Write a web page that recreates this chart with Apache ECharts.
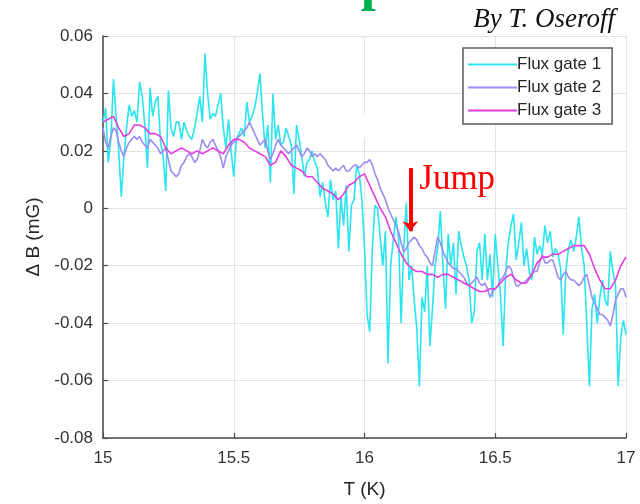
<!DOCTYPE html>
<html>
<head>
<meta charset="utf-8">
<script src="https://cdn.jsdelivr.net/npm/echarts@6/dist/echarts.min.js"></script>
<style>
  html, body { margin: 0; padding: 0; background: #fff; }
  #chart { width: 640px; height: 504px; }
</style>
</head>
<body>
<div id="chart"></div>
<script>
// Temperature sweep: first sample and sampling steps (K)
const T_START = 15;
const GATE12_STEP = 0.01;
const GATE3_STEP = 0.02;

// Field change per flux gate (mG)
const gate1 = [
  0.030, 0.035, 0.016, 0.024, 0.045, 0.032, 0.020, 0.004, 0.018, 0.028,
  0.036, 0.032, 0.034, 0.030, 0.044, 0.039, 0.029, 0.014, 0.042, 0.032,
  0.037, 0.039, 0.023, 0.018, 0.006, 0.041, 0.028, 0.025, 0.030, 0.030,
  0.024, 0.030, 0.027, 0.025, 0.024, 0.028, 0.033, 0.039, 0.030, 0.054,
  0.040, 0.031, 0.033, 0.032, 0.036, 0.040, 0.028, 0.021, 0.031, 0.020,
  0.011, 0.024, 0.026, 0.028, 0.025, 0.037, 0.030, 0.032, 0.035, 0.040,
  0.047, 0.033, 0.021, 0.029, 0.009, 0.040, 0.024, 0.029, 0.022, 0.023,
  0.028, 0.025, 0.022, 0.005, 0.029, 0.024, 0.018, 0.011, 0.016, 0.017,
  0.020, 0.016, 0.014, 0.004, 0.009, 0.002, -0.003, 0.010, 0.003, 0.006,
  -0.014, 0.004, -0.006, 0.008, -0.015, 0.001, 0.003, 0.015, 0.012, 0.003,
  -0.014, -0.037, -0.043, -0.014, 0.001, 0.000, -0.010, -0.020, -0.008, -0.054,
  -0.020, -0.011, -0.003, -0.010, -0.040, -0.014, 0.002, -0.025, -0.020, -0.032,
  -0.042, -0.062, -0.031, -0.036, -0.020, -0.048, -0.035, -0.020, -0.014, -0.001,
  -0.020, -0.035, -0.009, -0.020, -0.012, -0.030, -0.008, -0.013, -0.017, -0.020,
  -0.025, -0.040, -0.036, -0.015, -0.012, -0.025, -0.009, -0.025, -0.016, -0.031,
  -0.009, -0.020, -0.030, -0.048, -0.022, -0.012, -0.006, -0.002, -0.018, -0.012,
  -0.005, -0.020, -0.014, -0.022, -0.025, -0.010, -0.016, -0.013, -0.016, -0.006,
  -0.012, -0.008, -0.017, -0.014, -0.016, -0.021, -0.044, -0.022, -0.014, -0.011,
  -0.015, -0.010, -0.003, -0.014, -0.020, -0.040, -0.062, -0.035, -0.030, -0.040,
  -0.031, -0.025, -0.032, -0.034, -0.015, -0.022, -0.027, -0.062, -0.045, -0.039,
  -0.044
];

const gate2 = [
  0.028, 0.023, 0.021, 0.025, 0.028, 0.027, 0.023, 0.020, 0.018, 0.021,
  0.023, 0.024, 0.025, 0.024, 0.025, 0.023, 0.022, 0.021, 0.024, 0.023,
  0.022, 0.021, 0.019, 0.020, 0.021, 0.017, 0.013, 0.012, 0.011, 0.012,
  0.015, 0.016, 0.018, 0.019, 0.018, 0.016, 0.017, 0.020, 0.024, 0.022,
  0.021, 0.023, 0.024, 0.022, 0.020, 0.018, 0.014, 0.018, 0.020, 0.022,
  0.023, 0.024, 0.025, 0.026, 0.027, 0.028, 0.030, 0.028, 0.026, 0.024,
  0.022, 0.023, 0.024, 0.020, 0.017, 0.019, 0.022, 0.024, 0.022, 0.021,
  0.020, 0.019, 0.020, 0.021, 0.022, 0.020, 0.018, 0.019, 0.021, 0.020,
  0.018, 0.019, 0.018, 0.019, 0.018, 0.017, 0.015, 0.014, 0.013, 0.014,
  0.013, 0.014, 0.015, 0.013, 0.013, 0.014, 0.015, 0.015, 0.014, 0.015,
  0.016, 0.016, 0.017, 0.015, 0.012, 0.010, 0.007, 0.005, 0.003, 0.000,
  -0.002, -0.004, -0.006, -0.008, -0.012, -0.015, -0.014, -0.012, -0.011, -0.010,
  -0.011, -0.013, -0.014, -0.016, -0.017, -0.019, -0.020, -0.015, -0.010, -0.012,
  -0.015, -0.017, -0.019, -0.020, -0.021, -0.021, -0.022, -0.023, -0.024, -0.026,
  -0.027, -0.026, -0.025, -0.024, -0.026, -0.027, -0.026, -0.028, -0.031, -0.029,
  -0.028, -0.027, -0.025, -0.024, -0.022, -0.020, -0.021, -0.024, -0.027, -0.027,
  -0.026, -0.026, -0.025, -0.024, -0.023, -0.022, -0.022, -0.019, -0.016, -0.019,
  -0.019, -0.018, -0.018, -0.021, -0.024, -0.025, -0.023, -0.022, -0.024, -0.025,
  -0.025, -0.026, -0.027, -0.026, -0.024, -0.023, -0.027, -0.031, -0.033, -0.035,
  -0.037, -0.037, -0.038, -0.039, -0.041, -0.037, -0.032, -0.030, -0.028, -0.028,
  -0.031
];

const gate3 = [
  0.030, 0.031, 0.032, 0.028, 0.025, 0.026, 0.029, 0.029, 0.028, 0.026,
  0.026, 0.025, 0.021, 0.019, 0.020, 0.021, 0.020, 0.019, 0.020, 0.019,
  0.020, 0.021, 0.020, 0.019, 0.022, 0.024, 0.024, 0.023, 0.021, 0.020,
  0.019, 0.018, 0.015, 0.016, 0.020, 0.018, 0.015, 0.014, 0.013, 0.011,
  0.011, 0.009, 0.007, 0.006, 0.005, 0.003, 0.005, 0.008, 0.009, 0.011,
  0.012, 0.008, 0.004, 0.000, -0.003, -0.008, -0.012, -0.016, -0.019, -0.021,
  -0.022, -0.022, -0.023, -0.023, -0.024, -0.023, -0.023, -0.024, -0.025, -0.026,
  -0.027, -0.028, -0.029, -0.029, -0.028, -0.028, -0.026, -0.024, -0.023, -0.025,
  -0.026, -0.026, -0.023, -0.019, -0.017, -0.017, -0.016, -0.016, -0.015, -0.014,
  -0.013, -0.013, -0.013, -0.016, -0.021, -0.025, -0.028, -0.028, -0.025, -0.020,
  -0.017
];

const seriesNames = ['Flux gate 1', 'Flux gate 2', 'Flux gate 3'];
const seriesColors = ['#2ae4ef', '#9a8cf0', '#e23de0'];

// Axis ticks
const xTicks = [15, 15.5, 16, 16.5, 17];
const yTicks = [-0.08, -0.06, -0.04, -0.02, 0, 0.02, 0.04, 0.06];

// "Jump" marker: temperature and the span of the arrow (mG)
const jumpT = 16.175;
const jumpFrom = 0.014;
const jumpTo = -0.008;

function toPairs(values, step) {
  return values.map((v, i) => [+(T_START + i * step).toFixed(3), v]);
}

const SANS = '"Liberation Sans", Arial, Helvetica, sans-serif';
const SERIF = '"Liberation Serif", "Times New Roman", serif';
const AXIS_COLOR = '#4a4a4a';

const chart = echarts.init(document.getElementById('chart'), null, { renderer: 'canvas' });

const option = {
  animation: false,
  backgroundColor: '#ffffff',
  grid: { left: 103, right: 14, top: 36, bottom: 63 },
  legend: {
    data: seriesNames,
    orient: 'vertical',
    left: 463,
    top: 48,
    icon: 'rect',
    itemWidth: 49,
    itemHeight: 2,
    itemGap: 6,
    padding: [8, 11, 5, 5],
    backgroundColor: '#ffffff',
    borderColor: '#5a5a5a',
    borderWidth: 1.5,
    borderRadius: 0,
    textStyle: { fontFamily: SANS, fontSize: 17, color: '#262626', padding: [0, 0, 0, -5] }
  },
  xAxis: {
    type: 'value',
    min: xTicks[0],
    max: xTicks[xTicks.length - 1],
    interval: 0.5,
    name: 'T (K)',
    nameLocation: 'middle',
    nameGap: 42,
    nameTextStyle: { fontFamily: SANS, fontSize: 19, color: '#262626' },
    axisLine: { show: true, onZero: false, lineStyle: { color: AXIS_COLOR, width: 1.5 } },
    axisTick: { show: true, inside: true, length: 5, lineStyle: { color: AXIS_COLOR, width: 1.2 } },
    axisLabel: { fontFamily: SANS, fontSize: 17, color: '#333', margin: 12, formatter: v => String(v) },
    splitLine: { show: true, lineStyle: { color: '#e2e2e2', width: 1 } }
  },
  yAxis: {
    type: 'value',
    min: yTicks[0],
    max: yTicks[yTicks.length - 1],
    interval: 0.02,
    name: 'Δ B (mG)',
    nameLocation: 'middle',
    nameGap: 60,
    nameTextStyle: { fontFamily: SANS, fontSize: 19, color: '#262626' },
    axisLine: { show: true, onZero: false, lineStyle: { color: AXIS_COLOR, width: 1.5 } },
    axisTick: { show: true, inside: true, length: 5, lineStyle: { color: AXIS_COLOR, width: 1.2 } },
    axisLabel: { fontFamily: SANS, fontSize: 17, color: '#333', margin: 10, formatter: v => String(+v.toFixed(2)) },
    splitLine: { show: true, lineStyle: { color: '#e2e2e2', width: 1 } }
  },
  series: [
    {
      name: seriesNames[0], type: 'line', data: toPairs(gate1, GATE12_STEP),
      symbol: 'none', color: seriesColors[0], lineStyle: { width: 1.6, color: seriesColors[0] }, z: 2
    },
    {
      name: seriesNames[1], type: 'line', data: toPairs(gate2, GATE12_STEP),
      symbol: 'none', color: seriesColors[1], lineStyle: { width: 1.6, color: seriesColors[1] }, z: 3
    },
    {
      name: seriesNames[2], type: 'line', data: toPairs(gate3, GATE3_STEP),
      symbol: 'none', color: seriesColors[2], lineStyle: { width: 1.6, color: seriesColors[2] }, z: 4,
      markLine: {
        silent: true,
        symbol: ['none', 'arrow'],
        symbolSize: [12, 10],
        label: { show: false },
        lineStyle: { color: '#ff0000', width: 4, type: 'solid' },
        data: [[{ coord: [jumpT, jumpFrom] }, { coord: [jumpT, jumpTo] }]]
      }
    }
  ]
};

chart.setOption(option);

// Header texts, the white caption box over the plot, and the "Jump" annotation
const jumpPx = chart.convertToPixel({ gridIndex: 0 }, [jumpT, jumpFrom]);
chart.setOption({
  graphic: [
    {
      type: 'rect', x: 355, y: 115, z: 9, silent: true,
      shape: { width: 58, height: 23 },
      style: { fill: '#ffffff' }
    },
    {
      type: 'text', x: 360, y: -14.5, z: 10,
      style: { text: 'Flux expulsion', font: 'bold 54px ' + SERIF, fill: '#00b050', align: 'center', verticalAlign: 'middle' }
    },
    {
      type: 'text', x: 615, y: 20, z: 10,
      style: { text: 'By T. Oseroff', font: 'italic 27px ' + SERIF, fill: '#111111', align: 'right', verticalAlign: 'middle' }
    },
    {
      type: 'text', x: jumpPx[0] + 9, y: jumpPx[1] + 12, z: 10,
      style: { text: 'Jump', font: '35px ' + SERIF, fill: '#ff0000', align: 'left', verticalAlign: 'middle' }
    }
  ]
});
</script>
</body>
</html>
